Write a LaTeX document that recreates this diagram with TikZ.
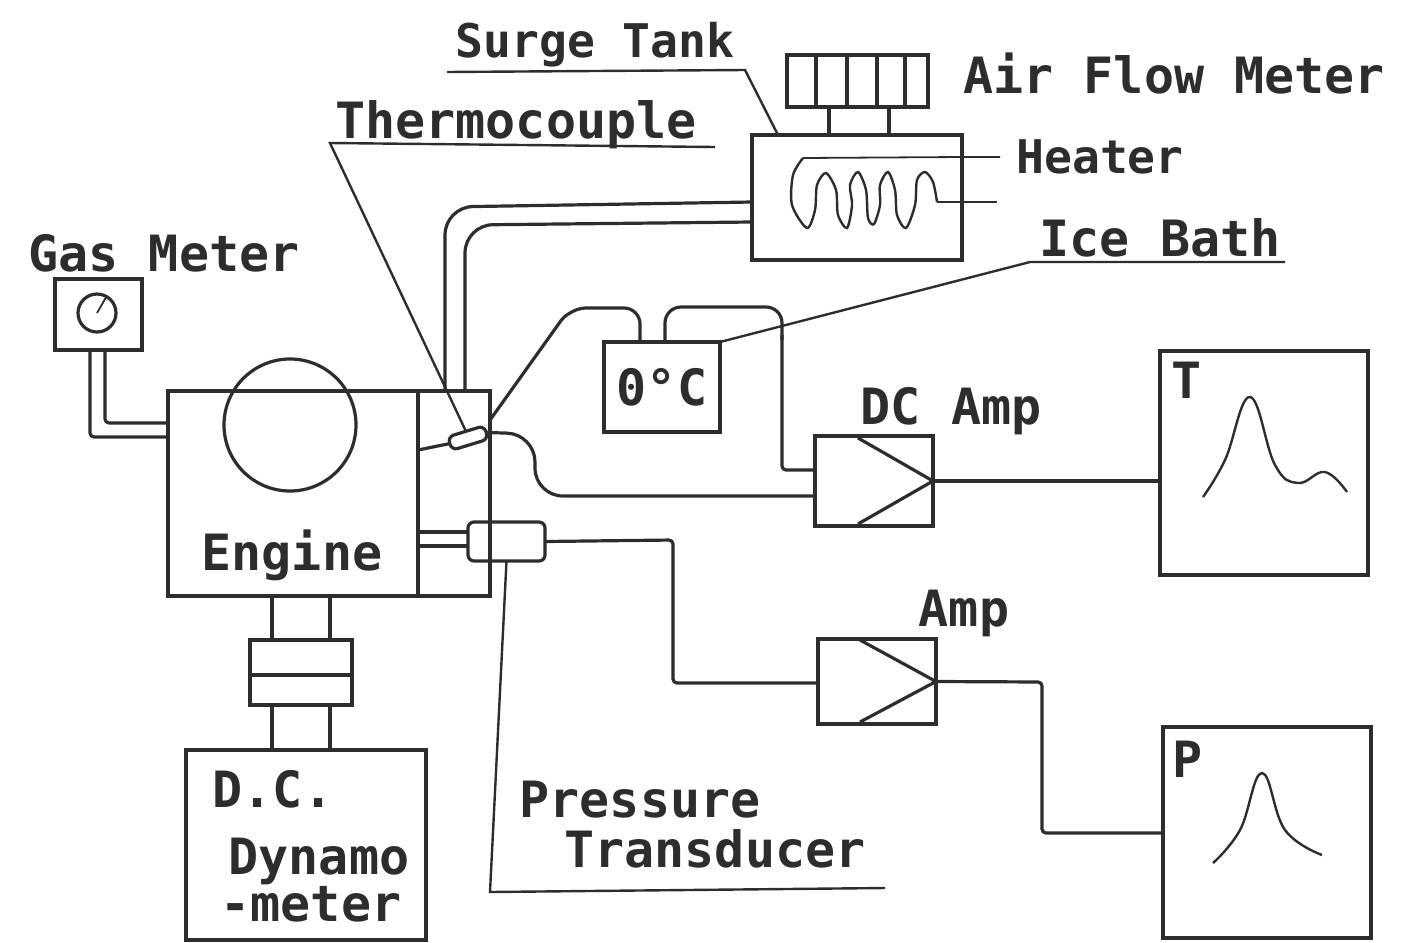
\documentclass[tikz,border=0pt]{standalone}
\usepackage{fontspec}
\setmonofont{DejaVu Sans Mono}
\usetikzlibrary{calc}
\definecolor{ink1}{RGB}{45, 45, 45}
\tikzset{
  box/.style={draw=ink1, line width=1.6pt, inner sep=0pt, outer sep=0pt},
  wire/.style={draw=ink1, line width=1.6pt, rounded corners=2pt},
  curved wire/.style={wire, rounded corners=14pt},
  thin wire/.style={draw=ink1, line width=0.9pt},
  leader/.style={draw=ink1, line width=1.2pt},
  trace/.style={draw=ink1, line width=1.2pt, smooth},
  lbl/.style={text=ink1, inner sep=0pt, font=\ttfamily\bfseries\fontsize{25}{25}\selectfont},
  small lbl/.style={lbl, font=\ttfamily\bfseries\fontsize{23.2}{25}\selectfont}
}

\begin{document}
\begin{tikzpicture}[x=0.5pt, y=-0.5pt]
  \useasboundingbox (0,0) rectangle (1411,942);

  \node[box, minimum width=70.5pt, minimum height=26pt] (meter) at (857.5,81) {};
  \node[box, minimum width=105pt, minimum height=62.5pt] (tank) at (857,197.5) {};
  \node[box, minimum width=43.5pt, minimum height=35.5pt] (gas) at (98.5,314.5) {};
  \node[box, circle, minimum size=19pt] (dial) at (97,313) {};
  \node[box, minimum width=125pt, minimum height=102.5pt] (engine) at (293,493.5) {};
  \node[box, minimum width=36pt, minimum height=102.5pt] (head) at (454,493.5) {};
  \node[box, circle, minimum size=66pt] (wheel) at (290,425) {};
  \node[box, rounded corners=3pt, minimum width=19pt, minimum height=7pt, rotate=17] (couple) at (468,438) {};
  \node[box, rounded corners=3pt, minimum width=38.5pt, minimum height=19.5pt] (transducer) at (506.5,541.5) {};
  \node[box, minimum width=51pt, minimum height=32.5pt] (clutch) at (301,672.5) {};
  \node[box, minimum width=120pt, minimum height=95pt] (dynamo) at (306,845) {};
  \node[box, minimum width=58pt, minimum height=45pt, lbl] (ice) at (662,387) {0°C};
  \node[box, minimum width=59pt, minimum height=45pt] (dcamp) at (874,481) {};
  \node[box, minimum width=59pt, minimum height=42.5pt] (amp) at (877,681.5) {};
  \node[box, minimum width=104pt, minimum height=112pt] (scopeT) at (1264,463) {};
  \node[box, minimum width=104pt, minimum height=105.5pt] (scopeP) at (1267,832.5) {};

  \node[small lbl] (lblsurge) at (595,45) {Surge Tank};
  \node[lbl, anchor=west] (lblmeter) at (963,74) {Air Flow Meter};
  \node[lbl] (lblthermo) at (516,125) {Thermocouple};
  \node[small lbl] (lblheater) at (1100,157) {Heater};
  \node[lbl] (lblice) at (1160,238) {Ice Bath};
  \node[lbl] (lblgas) at (164,253) {Gas Meter};
  \node[lbl] (lbldc) at (951,411) {DC Amp};
  \node[lbl] (lblamp) at (964,613) {Amp};
  \node[lbl] (lblengine) at (292,555) {Engine};
  \node[lbl] (lblpress) at (640,800) {Pressure};
  \node[lbl] (lbltrans) at (715,849) {Transducer};
  \node[lbl] (lblD) at (273,789) {D.C.};
  \node[lbl] (lbldyn) at (319,861) {Dynamo};
  \node[lbl] (lblmet) at (311,904) {-meter};
  \node[lbl] (lblT) at (1187,380) {T};
  \node[lbl] (lblP) at (1188,759) {P};

  \foreach \x in {816,847,877,905}
    \draw[box] (meter.north -| \x,0) -- (meter.south -| \x,0);
  \foreach \x in {829,889}
    \draw[wire] (meter.south -| \x,0) -- (tank.north -| \x,0);
  \foreach \x in {272,330} {
    \draw[wire] (engine.south -| \x,0) -- (clutch.north -| \x,0);
    \draw[wire] (clutch.south -| \x,0) -- (dynamo.north -| \x,0);
  }
  \draw[box] (clutch.west |- 0,675) -- (clutch.east |- 0,675);
  \draw[thin wire] (dial.center) -- (dial.60);

  \draw[wire] (gas.south -| 90,0) -- (90,437) -- (engine.west |- 0,437);
  \draw[wire] (gas.south -| 105,0) -- (105,423) -- (engine.west |- 0,423);
  \draw[curved wire] (tank.west |- 0,202) -- (445,207) -- (head.north -| 445,0);
  \draw[curved wire] (tank.west |- 0,222) -- (465,225) -- (head.north -| 465,0);

  \draw[thin wire] (1000,157) -- (tank.east |- 0,157) -- (803,158);
  \draw[trace] plot coordinates {(803,158) (793,175) (792,205) (807,228) (815,210) (817,185) (826,173) (836,190) (838,215) (847,228) (852,205) (850,185) (858,172) (866,190) (868,218) (874,224) (880,205) (880,185) (888,172) (895,190) (897,215) (906,228) (915,205) (917,180) (925,172) (933,182) (937,202)};
  \draw[thin wire] (937,202) -- (997,202);

  \coordinate (surgeend) at (447,72);
  \draw[leader] (surgeend) -- (745,70) -- (tank.north -| 778,0);
  \coordinate (thermoend) at (330,143);
  \draw[leader] (715,147) -- (thermoend) -- (couple.north);
  \coordinate (iceend) at (1285,262);
  \draw[leader] (iceend) -- (1030,262) -- (ice.north east);
  \coordinate (pressend) at (885,888);
  \draw[leader] (pressend) -- (490,892) -- (transducer.south);

  \draw[wire] (engine.east |- 0,450) -- (couple.west);
  \draw[wire, rounded corners=8pt] (head.east |- 0,420) -- (570,308) -- (640,308) -- (ice.north -| 640,0);
  \draw[wire, rounded corners=8pt] (ice.north -| 665,0) -- (665,307) -- (782,307) -- (782,340);
  \draw[wire] (782,335) -- (782,470) -- (dcamp.west |- 0,470);
  \draw[curved wire] (couple.east) -- (535,434) -- (535,496) -- (dcamp.west |- 0,496);
  \draw[wire] (dcamp.east) -- (scopeT.west |- dcamp.east);

  \draw[wire] (engine.east |- 0,532) -- (transducer.west |- 0,532);
  \draw[wire] (engine.east |- 0,546) -- (transducer.west |- 0,546);
  \draw[wire] (transducer.east) -- (673,540) -- (673,683) -- (amp.west |- 0,683);
  \draw[wire] (amp.east) -- (1042,682) -- (1042,833) -- (scopeP.west |- 0,833);

  \draw[box] (858,438) -- (dcamp.east) -- (858,524);
  \draw[box] (860,640) -- (amp.east) -- (860,722);

  \draw[trace, tension=0.7] plot coordinates {(1203,497) (1225,460) (1250,397) (1275,465) (1298,483) (1325,472) (1347,492)};
  \draw[trace, tension=0.7] plot coordinates {(1213,863) (1240,830) (1262,773) (1285,830) (1322,855)};
\end{tikzpicture}
\end{document}
